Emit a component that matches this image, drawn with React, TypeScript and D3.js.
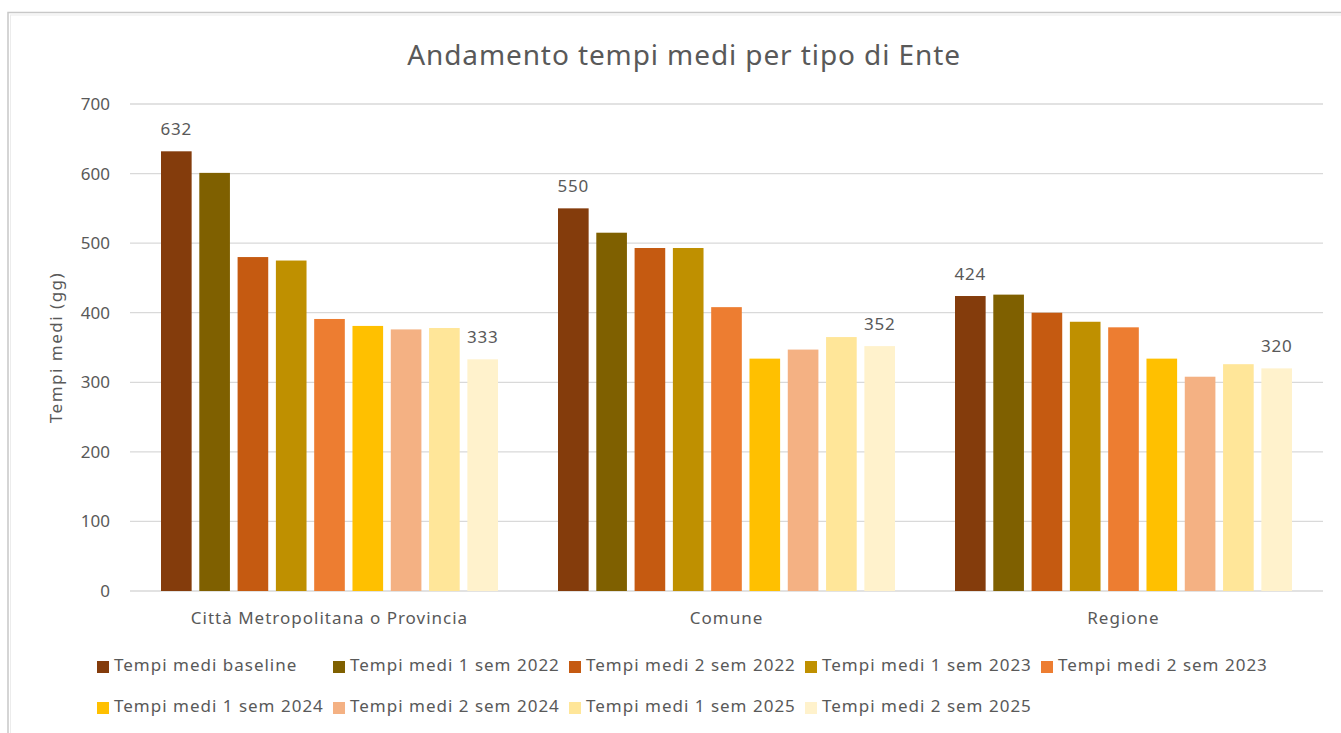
import * as d3 from 'd3'

const categories = ['Città Metropolitana o Provincia', 'Comune', 'Regione']
const seriesNames = [
  'Tempi medi baseline',
  'Tempi medi 1 sem 2022',
  'Tempi medi 2 sem 2022',
  'Tempi medi 1 sem 2023',
  'Tempi medi 2 sem 2023',
  'Tempi medi 1 sem 2024',
  'Tempi medi 2 sem 2024',
  'Tempi medi 1 sem 2025',
  'Tempi medi 2 sem 2025',
]
const colors = ['#843C0C', '#7F6000', '#C55A11', '#BF9000', '#ED7D31', '#FFC000', '#F4B183', '#FFE699', '#FFF2CC']

// values per category, in series order
const cittaValues = [632, 601, 480, 475, 391, 381, 376, 378, 333]
const comuneValues = [550, 515, 493, 493, 408, 334, 347, 365, 352]
const regioneValues = [424, 426, 400, 387, 379, 334, 308, 326, 320]
const values = [cittaValues, comuneValues, regioneValues]

const yTicks = [0, 100, 200, 300, 400, 500, 600, 700]
const labelled = [0, 8] // series that show a data label

const W = 1341
const H = 733
const FONT = '"Noto Sans", "Open Sans", sans-serif'
const TXT = '#595959'

export default function App() {
  const y = d3.scaleLinear().domain([0, 700]).range([591, 104])
  const x0 = d3.scaleBand().domain(categories).range([131, 1322])
  const x1 = d3.scaleBand<number>()
    .domain(d3.range(seriesNames.length))
    .range([30, x0.bandwidth() - 30])
    .paddingInner(0.2)

  const legendCols = 5
  const colW = 236

  return (
    <svg width={W} height={H} style={{ position: 'absolute', left: 0, top: 0, background: '#fff' }} fontFamily={FONT}>
      <rect x={8} y={12.5} width={W} height={H} fill="#fff" stroke="#c8c8c8" strokeWidth={1.5} />
      <rect x={10.5} y={15} width={W} height={H} fill="none" stroke="#ececec" strokeWidth={1} />

      <text x={684} y={65} textAnchor="middle" fontSize={28} letterSpacing={0.9} fill={TXT}>
        Andamento tempi medi per tipo di Ente
      </text>

      {yTicks.map(t => (
        <g key={t}>
          <line x1={130} x2={1323} y1={y(t)} y2={y(t)} stroke="#d9d9d9" strokeWidth={1.3} />
          <text x={110} y={y(t)} dy="0.35em" textAnchor="end" fontSize={17} fill={TXT}>{t}</text>
        </g>
      ))}

      <text transform={`translate(62,${y(350)}) rotate(-90)`} textAnchor="middle" fontSize={17} letterSpacing={1.5} fill={TXT}>
        Tempi medi (gg)
      </text>

      {categories.map((c, ci) => (
        <g key={c} transform={`translate(${x0(c)},0)`}>
          {values[ci].map((v, si) => (
            <rect key={si} x={x1(si)} y={y(v)} width={x1.bandwidth()} height={y(0) - y(v)} fill={colors[si]} />
          ))}
          {labelled.map(si => (
            <text key={si} x={(x1(si) ?? 0) + x1.bandwidth() / 2} y={y(values[ci][si]) - 16}
              textAnchor="middle" fontSize={17} letterSpacing={0.8} fill={TXT}>{values[ci][si]}</text>
          ))}
          <text x={x0.bandwidth() / 2} y={624} textAnchor="middle" fontSize={17} letterSpacing={1} fill={TXT}>{c}</text>
        </g>
      ))}

      {seriesNames.map((s, i) => {
        const lx = 97 + (i % legendCols) * colW
        const ly = 661 + Math.floor(i / legendCols) * 41
        return (
          <g key={s} transform={`translate(${lx},${ly})`}>
            <rect width={12} height={12} fill={colors[i]} />
            <text x={17} y={4} dy="0.35em" fontSize={17} letterSpacing={1} fill={TXT}>{s}</text>
          </g>
        )
      })}
    </svg>
  )
}
